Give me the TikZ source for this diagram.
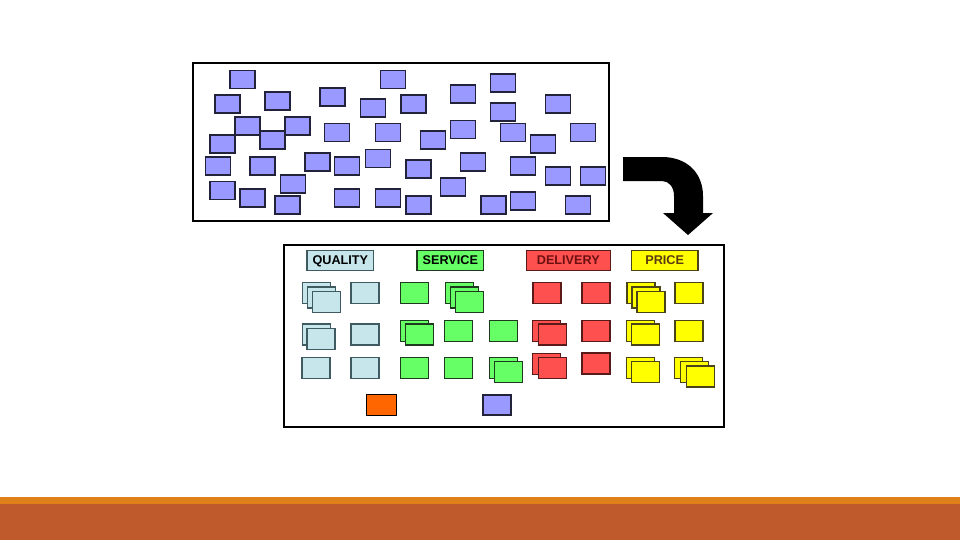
\documentclass[tikz,border=0pt]{standalone}
\usepackage{fontspec}
\setsansfont{Liberation Sans}
\usepackage{tikz}
\usetikzlibrary{positioning}
\definecolor{cardblue}{HTML}{9999FF}
\definecolor{cardedge}{HTML}{22223A}
\definecolor{qualfill}{HTML}{C6E6EC}
\definecolor{qualedge}{HTML}{3F5A60}
\definecolor{servfill}{HTML}{66FF66}
\definecolor{servedge}{HTML}{1E3A1E}
\definecolor{delfill}{HTML}{FF5050}
\definecolor{deledge}{HTML}{5A1A1A}
\definecolor{deltext}{HTML}{6B1010}
\definecolor{pricefill}{HTML}{FFFF00}
\definecolor{priceedge}{HTML}{4A4418}
\definecolor{pricetext}{HTML}{5A3A10}
\definecolor{oddorange}{HTML}{FF6600}
\definecolor{barorange}{HTML}{E08019}
\definecolor{barrust}{HTML}{BF5A2C}

\begin{document}
\begin{tikzpicture}[
  x=0.75pt, y=-0.75pt,
  panel/.style={rectangle, draw=black, line width=2.2pt, fill=white, inner sep=0pt},
  topcard/.style={rectangle, draw=cardedge, line width=1.2pt, fill=cardblue, minimum width=18.75pt, minimum height=13.5pt, inner sep=0pt},
  card/.style={rectangle, line width=1.1pt, minimum width=21pt, minimum height=15.75pt, inner sep=0pt},
  header/.style={rectangle, line width=1.1pt, minimum width=50pt, minimum height=15pt, inner sep=0pt, text height=6.8pt, text depth=0pt, font=\sffamily\bfseries\fontsize{9.5}{10}\selectfont},
  quality/.style={draw=qualedge, fill=qualfill},
  service/.style={draw=servedge, fill=servfill},
  delivery/.style={draw=deledge, fill=delfill},
  price/.style={draw=priceedge, fill=pricefill}
]
  \useasboundingbox (0,0) rectangle (960,540);
  \fill[white] (0,0) rectangle (960,540);

  \node[panel, minimum width=312pt, minimum height=118.5pt] (pile) at (401,142) {};
  \node[panel, minimum width=330pt, minimum height=136.5pt] (sorted) at (504,336) {};

  \foreach \cx/\cy [count=\i] in {242.5/79.5, 393/79.5, 503/83, 227.5/104, 277.5/100.7, 332.5/97, 373/108, 413.5/104, 463/94, 503/111.7, 558/104,
      247.5/126, 297.5/126, 222.5/144, 272.5/140, 337/132.5, 388/132.5, 433/140, 463/129.3, 513/132.5, 543/144, 583/132.5,
      218/166, 262.5/166, 317.5/162, 347/166, 378/158.5, 418.5/169, 473/162, 523/166, 558/176, 593/176,
      222.5/190.5, 252.5/198, 293/183.7, 287.5/205, 347/198, 388/198, 418.5/205, 453/187, 493.5/205, 523/201, 578/205}
    \node[topcard] (p\i) at (\cx,\cy) {};

  \fill[black] (623,157) -- (662,157) .. controls (687,157) and (703,173) .. (703,196) -- (703,213) -- (713,213)
    -- (688,235) -- (663,213) -- (674,213) -- (674,196) .. controls (674,187) and (669,181) .. (662,181) -- (623,181) -- cycle;

  \node[header, quality] (hq) at (340.3,260.3) {QUALITY};
  \node[header, service] (hs) at (450.3,260.3) {SERVICE};
  \node[header, delivery, minimum width=63pt, text=deltext] (hd) at (568.3,260.3) {DELIVERY};
  \node[header, price, text=pricetext] (hp) at (664.7,260.3) {PRICE};

  \node[card, quality] (q1a) at (316.3,292.8) {};
  \node[card, quality] (q1b) at (321.3,297.3) {};
  \node[card, quality] (q1c) at (326.3,301.8) {};
  \node[card, quality] (q2) at (365,293) {};
  \node[card, quality] (q3a) at (316.3,334.5) {};
  \node[card, quality] (q3b) at (321,338.8) {};
  \node[card, quality] (q4) at (365,334.5) {};
  \node[card, quality] (q5) at (316,368) {};
  \node[card, quality] (q6) at (365,368) {};

  \node[card, service] (s1) at (414.5,293) {};
  \node[card, service] (s2a) at (459.7,292.8) {};
  \node[card, service] (s2b) at (464.7,297.3) {};
  \node[card, service] (s2c) at (469.7,301.8) {};
  \node[card, service] (s3a) at (414.3,331.2) {};
  \node[card, service] (s3b) at (419.7,334.5) {};
  \node[card, service] (s4) at (458.5,331) {};
  \node[card, service] (s5) at (503.3,331) {};
  \node[card, service] (s6) at (414.5,368) {};
  \node[card, service] (s7) at (458.5,368) {};
  \node[card, service] (s8a) at (503.7,367.8) {};
  \node[card, service] (s8b) at (508.7,372.2) {};

  \node[card, delivery] (d1) at (547,293) {};
  \node[card, delivery] (d2) at (596,293) {};
  \node[card, delivery] (d3a) at (546.3,331.2) {};
  \node[card, delivery] (d3b) at (552.3,334.5) {};
  \node[card, delivery] (d4) at (596,331) {};
  \node[card, delivery] (d5a) at (546.3,363.8) {};
  \node[card, delivery] (d5b) at (552.3,367.8) {};
  \node[card, delivery] (d6) at (596,363.3) {};

  \node[card, price] (r1a) at (641,292.8) {};
  \node[card, price] (r1b) at (646,297.3) {};
  \node[card, price] (r1c) at (651,301.8) {};
  \node[card, price] (r2) at (689,293) {};
  \node[card, price] (r3a) at (640.3,331.2) {};
  \node[card, price] (r3b) at (645.7,334.5) {};
  \node[card, price] (r4) at (689,331) {};
  \node[card, price] (r5a) at (640.3,367.8) {};
  \node[card, price] (r5b) at (645.7,372.2) {};
  \node[card, price] (r6a) at (688.7,367.8) {};
  \node[card, price] (r6b) at (694.5,372) {};
  \node[card, price] (r6c) at (700.3,376.5) {};

  \node[card, draw=black, fill=oddorange, minimum width=22.5pt] (odd1) at (381.3,405) {};
  \node[card, draw=cardedge, fill=cardblue, minimum height=15pt] (odd2) at (497,405) {};

  \fill[barorange] (0,497) rectangle (960,504);
  \fill[barrust] (0,504) rectangle (960,540);
\end{tikzpicture}
\end{document}
